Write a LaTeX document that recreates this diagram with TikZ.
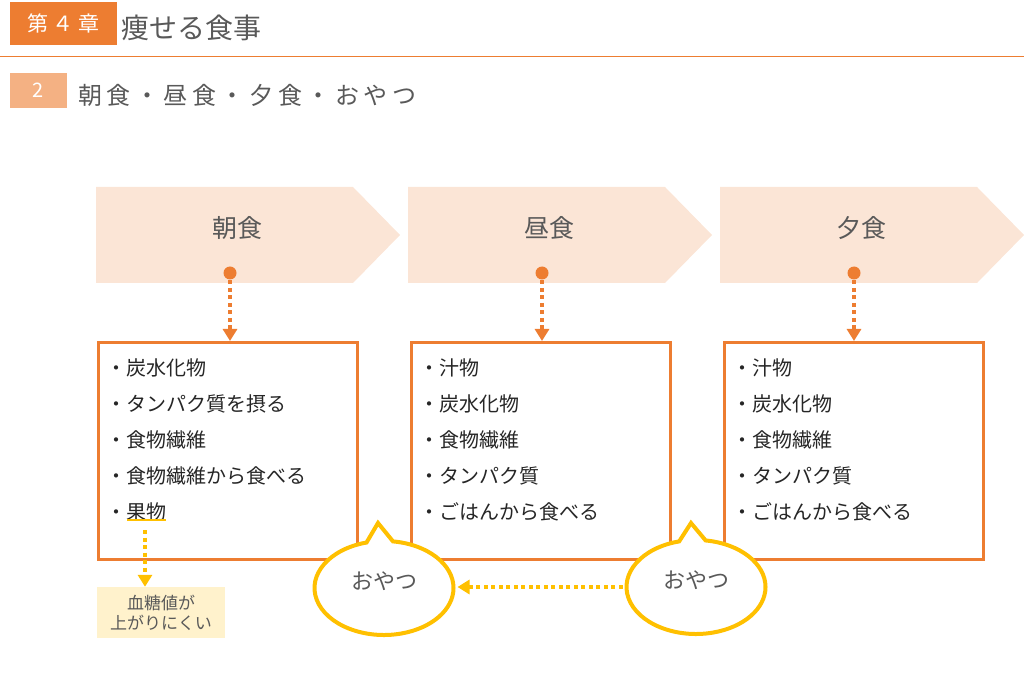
\documentclass[tikz,border=0pt]{standalone}
\usepackage{fontspec}
\setmainfont{Noto Sans CJK JP}
\usetikzlibrary{arrows.meta,shapes.callouts}

\definecolor{hdorange}{HTML}{ED7D31}
\definecolor{hdlight}{HTML}{F4B183}
\definecolor{chevfill}{HTML}{FBE5D6}
\definecolor{snackyel}{HTML}{FFC000}
\definecolor{notefill}{HTML}{FFF2CC}
\definecolor{titlegray}{HTML}{595959}
\definecolor{itemtext}{HTML}{262626}

\tikzset{
  item/.style={anchor=west, inner sep=0pt, text=itemtext, font=\fontsize{20}{24}\selectfont},
  menubox/.style={draw=hdorange, line width=2.7pt, minimum width=259pt, minimum height=217pt, anchor=north west, inner sep=0pt},
  snack/.style={ellipse callout, draw=snackyel, fill=white, line width=4pt, minimum width=139pt, minimum height=94pt,
    inner sep=0pt, text height=20pt, text depth=18pt, callout pointer arc=22, text=titlegray, font=\fontsize{22}{26}\selectfont},
  orangedots/.style={draw=hdorange, line width=3.5pt, dash pattern=on 4pt off 3.5pt, -{Triangle[width=14pt,length=12pt]}},
  yellowdots/.style={draw=snackyel, line width=3.5pt, dash pattern=on 4pt off 3.5pt, -{Triangle[width=14pt,length=12pt]}}
}

\begin{document}
\begin{tikzpicture}[x=1pt,y=1pt]
\useasboundingbox (0,0) rectangle (1024,694);

% chapter header
\node[fill=hdorange, text=white, minimum width=107pt, minimum height=43pt, inner sep=0pt,
  font=\fontsize{21}{24}\selectfont\addfontfeature{LetterSpace=20}] (chap) at (63.5,670.5) {第４章};
\node[anchor=west, inner sep=0pt, text=titlegray, font=\fontsize{28}{30}\selectfont] (title) at (121,666) {痩せる食事};
\draw[hdorange, line width=1pt] (0,637) -- (1024,637);
\node[fill=hdlight, text=white, minimum width=57pt, minimum height=35pt, inner sep=0pt,
  font=\fontsize{20}{24}\selectfont] (sec) at (38.5,603.5) {2};
\node[anchor=west, inner sep=0pt, text=titlegray,
  font=\fontsize{24}{28}\selectfont\addfontfeature{LetterSpace=19}] (subtitle) at (78,599) {朝食・昼食・夕食・おやつ};

% meal chevrons
\foreach \x/\meal/\n in {96/朝食/1, 408/昼食/2, 720/夕食/3} {
  \fill[chevfill] (\x,411) -- ++(257,0) -- ++(47,48) -- ++(-47,48) -- ++(-257,0) -- cycle;
  \node[text=titlegray, font=\fontsize{25}{28}\selectfont] (meal\n) at (\x+141,466) {\meal};
  \coordinate (dot\n) at (\x+134,421);
}

% menu boxes
\node[menubox] (box1) at (97,353) {};
\node[menubox] (box2) at (410,353) {};
\node[menubox] (box3) at (723,353) {};

\foreach \n in {1,2,3} {
  \fill[hdorange] (dot\n) circle (6.5pt);
  \draw[orangedots] (dot\n) -- (dot\n |- box\n.north);
}

\foreach \txt [count=\i] in {炭水化物, タンパク質を摂る, 食物繊維, 食物繊維から食べる, 果物}
  \node[item] (ba\i) at (106,362-36*\i) {・\txt};
\foreach \txt [count=\i] in {汁物, 炭水化物, 食物繊維, タンパク質, ごはんから食べる}
  \node[item] (bb\i) at (419,362-36*\i) {・\txt};
\foreach \txt [count=\i] in {汁物, 炭水化物, 食物繊維, タンパク質, ごはんから食べる}
  \node[item] (bc\i) at (732,362-36*\i) {・\txt};

% fruit note
\draw[snackyel, line width=2pt] ([xshift=21pt,yshift=1pt]ba5.south west) -- ([yshift=1pt]ba5.south east);
\node[fill=notefill, minimum width=128pt, minimum height=51pt, inner sep=0pt, align=center,
  text=titlegray, font=\fontsize{17}{20}\selectfont] (note) at (161,81.5) {血糖値が\\上がりにくい};
\coordinate (fruitend) at (145,164);
\draw[yellowdots] (fruitend) -- (fruitend |- note.north);

% snacks
\node[snack, callout absolute pointer={(378,171)}] (snack1) at (384,106) {おやつ};
\node[snack, callout absolute pointer={(691,171)}] (snack2) at (696,107) {おやつ};
\draw[yellowdots, shorten >=2pt, shorten <=2pt] (snack2.west) -- (snack2.west -| snack1.east);
\end{tikzpicture}
\end{document}
